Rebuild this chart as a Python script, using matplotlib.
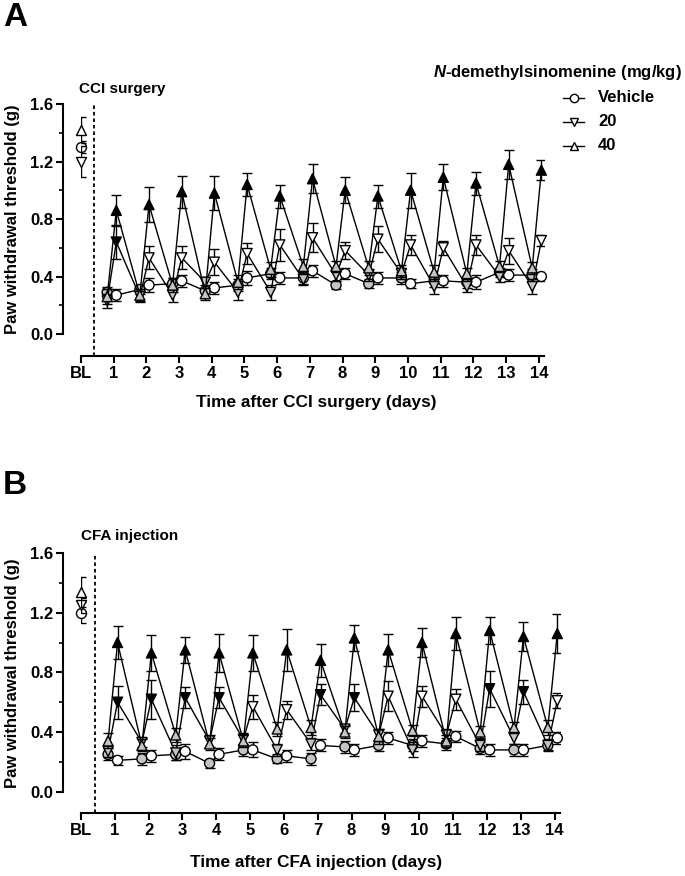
import matplotlib
matplotlib.use("Agg")
import matplotlib.pyplot as plt
from matplotlib.lines import Line2D
from matplotlib.ticker import MultipleLocator
import numpy as np

plt.rcParams['font.family'] = ['Liberation Sans', 'DejaVu Sans']
plt.rcParams['font.weight'] = 'bold'
plt.rcParams['axes.labelweight'] = 'bold'
plt.rcParams['mathtext.fontset'] = 'custom'
plt.rcParams['mathtext.it'] = 'Liberation Sans:italic:bold'
plt.rcParams['mathtext.rm'] = 'Liberation Sans:bold'

# ---------------- data ----------------
days = list(range(1, 15))
tick_labels = ['BL'] + [str(d) for d in days]
series_names = ['Vehicle', '20', '40']

# Panel A (CCI)
blA = [1.30, 1.20, 1.42]
blA_se = [0.04, 0.11, 0.09]
vehA_pre = [0.29, 0.31, 0.35, 0.30, 0.34, 0.42, 0.39, 0.34, 0.35, 0.39, 0.37, 0.36, 0.43, 0.41]
vehA_post = [0.27, 0.34, 0.37, 0.32, 0.39, 0.39, 0.44, 0.42, 0.39, 0.35, 0.37, 0.36, 0.41, 0.40]
d20A_pre = [0.23, 0.26, 0.27, 0.36, 0.29, 0.29, 0.38, 0.41, 0.41, 0.42, 0.33, 0.33, 0.40, 0.33]
d20A_post = [0.64, 0.53, 0.53, 0.50, 0.56, 0.62, 0.67, 0.58, 0.66, 0.62, 0.60, 0.62, 0.58, 0.65]
d40A_pre = [0.26, 0.27, 0.34, 0.28, 0.36, 0.45, 0.47, 0.47, 0.46, 0.44, 0.43, 0.42, 0.47, 0.46]
d40A_post = [0.86, 0.90, 0.99, 0.98, 1.04, 0.96, 1.08, 1.00, 0.96, 1.00, 1.09, 1.05, 1.18, 1.14]
seA_veh_pre = [0.04, 0.03, 0.04, 0.04, 0.04, 0.04, 0.04, 0.03, 0.03, 0.04, 0.04, 0.04, 0.03, 0.04]
seA_veh_post = [0.04, 0.05, 0.04, 0.04, 0.05, 0.04, 0.04, 0.04, 0.04, 0.03, 0.04, 0.05, 0.04, 0.03]
seA_20_pre = [0.05, 0.04, 0.05, 0.04, 0.05, 0.05, 0.04, 0.04, 0.04, 0.04, 0.05, 0.04, 0.04, 0.05]
seA_20_post = [0.12, 0.08, 0.08, 0.09, 0.07, 0.11, 0.10, 0.06, 0.09, 0.07, 0.05, 0.07, 0.09, 0.04]
seA_40_pre = [0.05, 0.04, 0.05, 0.04, 0.05, 0.05, 0.05, 0.04, 0.05, 0.04, 0.05, 0.04, 0.04, 0.04]
seA_40_post = [0.11, 0.12, 0.11, 0.12, 0.08, 0.08, 0.10, 0.09, 0.08, 0.12, 0.09, 0.08, 0.10, 0.07]
sig20A = [1, 0, 0, 0, 0, 0, 0, 0, 0, 0, 0, 0, 0, 0]

# Panel B (CFA)
blB = [1.20, 1.25, 1.34]
blB_se = [0.07, 0.05, 0.10]
vehB_pre = [0.25, 0.22, 0.25, 0.19, 0.28, 0.22, 0.22, 0.30, 0.31, 0.31, 0.32, 0.29, 0.28, 0.31]
vehB_post = [0.21, 0.24, 0.27, 0.25, 0.28, 0.24, 0.31, 0.28, 0.36, 0.34, 0.37, 0.28, 0.28, 0.36]
d20B_pre = [0.27, 0.33, 0.26, 0.34, 0.35, 0.28, 0.32, 0.42, 0.38, 0.28, 0.38, 0.31, 0.36, 0.31]
d20B_post = [0.60, 0.62, 0.63, 0.63, 0.57, 0.55, 0.65, 0.63, 0.64, 0.64, 0.62, 0.69, 0.67, 0.61]
d40B_pre = [0.34, 0.31, 0.38, 0.32, 0.34, 0.42, 0.43, 0.40, 0.37, 0.41, 0.34, 0.40, 0.43, 0.43]
d40B_post = [1.00, 0.93, 0.95, 0.93, 0.93, 0.95, 0.88, 1.03, 0.95, 1.00, 1.06, 1.08, 1.04, 1.06]
seB_veh_pre = [0.04, 0.04, 0.04, 0.03, 0.04, 0.03, 0.04, 0.04, 0.04, 0.04, 0.04, 0.04, 0.04, 0.03]
seB_veh_post = [0.03, 0.04, 0.05, 0.04, 0.05, 0.04, 0.04, 0.04, 0.04, 0.04, 0.04, 0.04, 0.04, 0.04]
seB_20_pre = [0.04, 0.03, 0.05, 0.04, 0.04, 0.04, 0.04, 0.03, 0.04, 0.05, 0.04, 0.04, 0.04, 0.04]
seB_20_post = [0.11, 0.13, 0.07, 0.07, 0.08, 0.06, 0.07, 0.09, 0.10, 0.07, 0.07, 0.12, 0.08, 0.05]
seB_40_pre = [0.05, 0.04, 0.05, 0.04, 0.04, 0.05, 0.05, 0.04, 0.05, 0.04, 0.04, 0.04, 0.04, 0.05]
seB_40_post = [0.11, 0.12, 0.09, 0.13, 0.12, 0.14, 0.11, 0.09, 0.11, 0.10, 0.11, 0.09, 0.10, 0.13]
sig20B = [1, 1, 1, 1, 0, 0, 1, 1, 0, 0, 0, 1, 1, 0]

# ---------------- style ----------------
W, H = 685, 876
GRAY = '#c4c4c4'
PRE_OFF, POST_OFF = -0.2, 0.08
markers = ['o', 'v', '^']
MS = 52
LW = 1.0

fig = plt.figure(figsize=(W / 100, H / 100), dpi=100)


def fx(x):
    return x / W


def fy(y):
    return 1 - y / H


def make_axes(left, right, top, bottom):
    return fig.add_axes([fx(left), fy(bottom), fx(right - left), (bottom - top) / H])


def draw_panel(ax, ybot, bl, bl_se, pres, posts, se_pres, se_posts, sig20):
    ax.set_xlim(0, 14.16)
    ax.set_ylim(ybot, 1.6)
    for s in ['top', 'right']:
        ax.spines[s].set_visible(False)
    ax.spines['left'].set_position(('outward', 13))
    ax.spines['left'].set_bounds(0, 1.6)
    for s in ['left', 'bottom']:
        ax.spines[s].set_linewidth(1.5)
    ax.set_yticks(np.arange(0, 1.61, 0.4))
    ax.set_yticklabels(['0.0', '0.4', '0.8', '1.2', '1.6'])
    ax.yaxis.set_minor_locator(MultipleLocator(0.2))
    ax.set_xticks(range(0, 15))
    ax.set_xticklabels(tick_labels)
    ax.tick_params(axis='both', which='major', direction='out', length=5, width=1.5,
                   labelsize=12, pad=2)
    ax.tick_params(axis='y', which='minor', direction='out', length=3, width=1.2)
    for lab in ax.get_xticklabels() + ax.get_yticklabels():
        lab.set_fontweight('bold')
    ax.axvline(0.4, color='black', lw=1.3, ls=(0, (2, 1.6)))

    for i in range(3):
        xs, ys, es, fcs = [], [], [], []
        for k, d in enumerate(days):
            xs += [d + PRE_OFF, d + POST_OFF]
            ys += [pres[i][k], posts[i][k]]
            es += [se_pres[i][k], se_posts[i][k]]
            if i == 0:
                post_fc = 'white'
            elif i == 1:
                post_fc = 'black' if sig20[k] else 'white'
            else:
                post_fc = 'black'
            fcs += [GRAY, post_fc]
        z = 3 + i
        ax.plot(xs, ys, color='black', lw=LW, zorder=z)
        ax.errorbar(xs, ys, yerr=es, fmt='none', ecolor='black', elinewidth=LW,
                    capsize=3.6, capthick=LW, zorder=z)
        ax.scatter(xs, ys, s=MS, marker=markers[i], facecolors=fcs,
                   edgecolors='black', linewidths=1.0, zorder=z + 0.5, clip_on=False)
        # baseline
        ax.errorbar([0], [bl[i]], yerr=[bl_se[i]], fmt='none', ecolor='black',
                    elinewidth=LW, capsize=3.6, capthick=LW, zorder=z)
        ax.scatter([0], [bl[i]], s=MS, marker=markers[i], facecolors='white',
                   edgecolors='black', linewidths=1.0, zorder=z + 0.5, clip_on=False)


# Panel A
axA = make_axes(81, 544, 104, 356)
draw_panel(axA, -0.153, blA, blA_se,
           [vehA_pre, d20A_pre, d40A_pre], [vehA_post, d20A_post, d40A_post],
           [seA_veh_pre, seA_20_pre, seA_40_pre], [seA_veh_post, seA_20_post, seA_40_post],
           sig20A)

# Panel B
axB = make_axes(81, 560, 553, 813)
draw_panel(axB, -0.143, blB, blB_se,
           [vehB_pre, d20B_pre, d40B_pre], [vehB_post, d20B_post, d40B_post],
           [seB_veh_pre, seB_20_pre, seB_40_pre], [seB_veh_post, seB_20_post, seB_40_post],
           sig20B)

# texts
fig.text(fx(3), fy(17), 'A', fontsize=24, fontweight='bold', va='center', ha='left')
fig.text(fx(3), fy(486), 'B', fontsize=24, fontweight='bold', va='center', ha='left')
fig.text(fx(79), fy(89), 'CCI surgery', fontsize=11, fontweight='bold', va='center', ha='left')
fig.text(fx(81), fy(536), 'CFA injection', fontsize=11, fontweight='bold', va='center', ha='left')
fig.text(fx(316), fy(402), 'Time after CCI surgery (days)', fontsize=12.4, fontweight='bold',
         va='center', ha='center')
fig.text(fx(316), fy(863), 'Time after CFA injection (days)', fontsize=12.4, fontweight='bold',
         va='center', ha='center')
fig.text(fx(13), fy(219), 'Paw withdrawal threshold (g)', fontsize=12, fontweight='bold',
         va='center', ha='center', rotation=90)
fig.text(fx(13), fy(673), 'Paw withdrawal threshold (g)', fontsize=12, fontweight='bold',
         va='center', ha='center', rotation=90)

# legend
fig.text(fx(433), fy(73), r'$\mathit{N}$-demethylsinomenine (mg/kg)', fontsize=12,
         fontweight='bold', va='center', ha='left')
leg_y = [98, 122, 146]
for i in range(3):
    fig.add_artist(Line2D([fx(563), fx(584)], [fy(leg_y[i]), fy(leg_y[i])], color='black',
                          lw=1.0, marker=None))
    fig.add_artist(Line2D([fx(573.5)], [fy(leg_y[i])], color='black', marker=markers[i],
                          markersize=6, markerfacecolor='white', markeredgecolor='black',
                          markeredgewidth=1.0, lw=0))
    fig.text(fx(598), fy(leg_y[i]), series_names[i], fontsize=12, fontweight='bold',
             va='center', ha='left')

fig.savefig('out.png', dpi=100)
